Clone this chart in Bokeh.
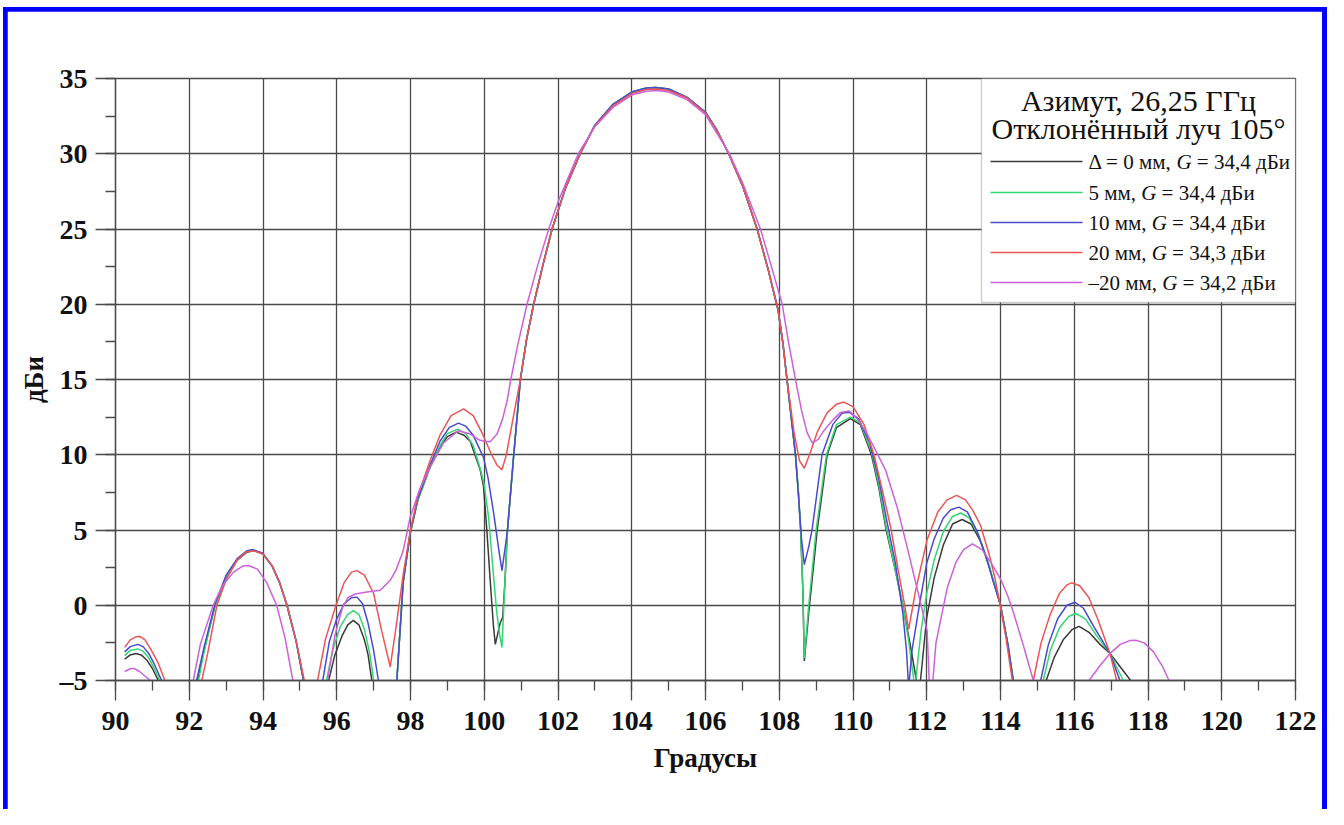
from bokeh.plotting import figure
from bokeh.models import Range1d, SingleIntervalTicker, BoxAnnotation, Label, Arrow
from bokeh.embed import file_html
from bokeh.resources import INLINE

# ---------------- data ----------------
X_MIN, X_MAX = 90, 122
Y_MIN, Y_MAX = -5, 35

MAIN_X = [100.8, 100.98, 101.15, 101.34, 101.6, 101.84, 102.2, 102.6, 103.0, 103.5, 104.0, 104.4,
          104.65, 105.0, 105.5, 106.0, 106.3, 106.63, 107.0, 107.4, 107.7, 107.97, 108.1, 108.2]
MAIN_Y = [10.0, 15.0, 17.7, 20.0, 22.7, 25.0, 27.7, 30.0, 31.9, 33.3, 34.1, 34.37,
          34.4, 34.3, 33.75, 32.76, 31.6, 30.0, 27.9, 25.0, 22.3, 19.6, 17.4, 15.2]

# Δ = 0 mm
BLK_X = ([90.25, 90.4, 90.55, 90.7, 90.85, 91.0, 91.16, 91.3, 91.75, 92.22, 92.4, 92.7, 93.0, 93.3,
          93.55, 93.75, 94.0, 94.25, 94.45, 94.65, 94.9, 95.1, 95.3, 95.45, 95.78, 95.95, 96.15, 96.3,
          96.45, 96.6, 96.75, 96.85, 96.95, 97.1, 97.35, 97.63, 97.8, 97.99, 98.2, 98.53, 98.8, 99.0,
          99.24, 99.45, 99.62, 99.89, 99.98, 100.07, 100.16, 100.25, 100.3, 100.43, 100.5, 100.56, 100.63]
         + MAIN_X +
         [108.32, 108.44, 108.52, 108.58, 108.64, 108.68, 108.8, 109.03, 109.3, 109.55, 109.93, 110.2,
          110.5, 110.7, 110.9, 111.15, 111.35, 111.55, 111.72, 111.78, 111.83, 112.0, 112.2, 112.45,
          112.7, 112.96, 113.2, 113.45, 113.7, 114.0, 114.2, 114.35, 114.8, 115.24, 115.45, 115.7,
          115.95, 116.13, 116.4, 116.7, 116.97, 117.25, 117.53, 117.8])
BLK_Y = ([-3.58, -3.3, -3.2, -3.3, -3.65, -4.2, -5.0, -6.2, -12, -5.0, -3.0, 0.0, 1.9, 3.0,
          3.5, 3.64, 3.4, 2.6, 1.5, 0.0, -2.4, -5.0, -9, -12, -5.0, -3.3, -2.0, -1.3,
          -1.0, -1.3, -2.3, -3.3, -5.0, -8, -14, -5.0, 1.5, 4.77, 7.0, 9.17, 10.5, 11.2,
          11.5, 11.3, 10.9, 9.0, 7.9, 5.0, 1.7, -1.4, -2.6, -1.2, -0.8, 1.5, 5.0]
         + MAIN_Y +
         [12.6, 10.0, 7.5, 5.0, 1.0, -3.7, -0.5, 5.0, 10.0, 11.8, 12.4, 12.0,
          10.0, 7.8, 5.0, 2.3, 0.0, -2.6, -5.0, -9, -5.0, -0.8, 1.8, 4.0,
          5.4, 5.7, 5.4, 4.3, 2.5, 0.0, -2.6, -5.0, -13, -5.0, -3.5, -2.3,
          -1.6, -1.4, -1.8, -2.6, -3.2, -4.1, -5.0, -7])

# 5 mm
GRN_X = ([90.25, 90.4, 90.6, 90.75, 90.9, 91.05, 91.2, 91.4, 91.75, 92.25, 92.4, 92.7, 93.0, 93.3,
          93.55, 93.75, 94.0, 94.25, 94.45, 94.65, 94.9, 95.1, 95.45, 95.72, 95.9, 96.1, 96.3, 96.45,
          96.6, 96.75, 96.9, 97.0, 97.35, 97.63, 97.8, 97.99, 98.2, 98.53, 98.8, 99.0, 99.28, 99.5,
          99.7, 99.9, 100.0, 100.12, 100.25, 100.34, 100.42, 100.48, 100.56, 100.63]
         + MAIN_X +
         [108.32, 108.44, 108.52, 108.58, 108.64, 108.68, 108.8, 109.0, 109.28, 109.55, 109.93, 110.2,
          110.5, 110.7, 110.9, 111.15, 111.35, 111.5, 111.65, 111.68, 111.7, 111.85, 112.0, 112.2,
          112.45, 112.7, 112.92, 113.15, 113.4, 113.7, 114.0, 114.2, 114.34, 114.7, 115.16, 115.35,
          115.6, 115.85, 116.04, 116.3, 116.6, 116.97, 117.15, 117.33, 117.6])
GRN_Y = ([-3.35, -3.0, -2.9, -3.05, -3.5, -4.2, -5.0, -7, -12, -5.0, -3.1, 0.0, 1.9, 3.0,
          3.55, 3.65, 3.4, 2.6, 1.5, 0.0, -2.4, -5.0, -12, -5.0, -2.9, -1.4, -0.6, -0.35,
          -0.6, -1.6, -3.3, -5.0, -14, -5.0, 1.5, 4.77, 7.0, 9.17, 10.6, 11.4, 11.7, 11.4,
          10.6, 9.0, 8.0, 5.8, 2.0, -0.5, -2.0, -2.8, 1.5, 5.0]
         + MAIN_Y +
         [12.6, 10.0, 7.5, 5.0, 1.0, -3.5, 0.0, 5.0, 10.0, 12.0, 12.5, 12.1,
          10.2, 8.0, 5.2, 2.3, 0.0, -2.2, -5.0, -7, -5.0, -1.6, 0.8, 3.0,
          4.9, 5.9, 6.13, 5.8, 4.7, 2.6, 0.0, -2.6, -5.0, -13, -5.0, -3.0,
          -1.5, -0.75, -0.55, -0.9, -2.0, -3.2, -4.1, -5.0, -8])

# 10 mm
BLU_X = ([90.25, 90.4, 90.6, 90.75, 90.9, 91.05, 91.25, 91.5, 91.75, 92.2, 92.4, 92.7, 93.0, 93.3,
          93.55, 93.72, 94.0, 94.25, 94.45, 94.65, 94.9, 95.1, 95.4, 95.62, 95.8, 96.0, 96.2, 96.4,
          96.55, 96.7, 96.85, 97.0, 97.13, 97.38, 97.63, 97.8, 97.99, 98.2, 98.53, 98.8, 99.05, 99.3,
          99.5, 99.7, 99.98, 100.1, 100.25, 100.4, 100.48, 100.56, 100.63]
         + MAIN_X +
         [108.32, 108.44, 108.52, 108.6, 108.68, 108.8, 108.89, 109.16, 109.45, 109.7, 109.89, 110.15,
          110.45, 110.7, 110.9, 111.15, 111.35, 111.45, 111.51, 111.6, 111.8, 112.0, 112.2, 112.45,
          112.65, 112.87, 113.1, 113.35, 113.6, 113.8, 114.0, 114.2, 114.34, 114.7, 115.09, 115.3,
          115.55, 115.8, 116.02, 116.25, 116.55, 116.97, 117.24, 117.5])
BLU_Y = ([-3.1, -2.75, -2.6, -2.75, -3.2, -3.9, -5.0, -8, -12, -5.0, -2.8, 0.1, 2.0, 3.1,
          3.6, 3.7, 3.45, 2.6, 1.5, 0.0, -2.4, -5.0, -12, -5.0, -2.4, -0.9, 0.1, 0.5,
          0.54, 0.1, -1.2, -3.0, -5.0, -14, -5.0, 1.5, 4.77, 7.1, 9.3, 10.9, 11.8, 12.1,
          11.9, 11.3, 9.83, 8.5, 6.2, 3.6, 2.3, 3.7, 5.0]
         + MAIN_Y +
         [12.6, 10.0, 7.3, 4.5, 2.7, 3.9, 5.0, 10.0, 12.0, 12.75, 12.83, 12.4,
          10.8, 8.4, 5.8, 2.8, -0.5, -3.0, -5.5, -3.0, 0.0, 2.8, 4.4, 5.8,
          6.35, 6.52, 6.2, 5.0, 3.3, 1.6, 0.0, -2.6, -5.0, -13, -5.0, -2.6,
          -0.9, 0.0, 0.2, -0.2, -1.5, -3.2, -5.0, -8])

# 20 mm
RED_X = [90.25, 90.4, 90.55, 90.66, 90.8, 90.95, 91.15, 91.34, 91.6, 91.9, 92.34, 92.5, 92.75, 93.0,
         93.3, 93.55, 93.75, 94.0, 94.25, 94.45, 94.65, 94.9, 95.12, 95.3, 95.48, 95.7, 95.98, 96.2,
         96.4, 96.55, 96.75, 97.0, 97.2, 97.45, 97.6, 97.8, 97.99, 98.2, 98.53, 98.8, 99.1, 99.44,
         99.7, 99.95, 100.2, 100.35, 100.48, 100.6, 100.75, 100.98, 101.15, 101.34, 101.6, 101.84,
         102.2, 102.6, 103.0, 103.5, 104.0, 104.4, 104.65, 105.0, 105.5, 106.0, 106.3, 106.63, 107.0,
         107.4, 107.7, 107.97, 108.1, 108.2, 108.4, 108.55, 108.68, 108.85, 109.03, 109.3, 109.55,
         109.75, 110.0, 110.3, 110.57, 110.8, 111.02, 111.25, 111.4, 111.51, 111.7, 112.01, 112.3,
         112.55, 112.81, 113.05, 113.25, 113.46, 113.7, 113.85, 114.0, 114.15, 114.32, 114.6, 114.89,
         115.1, 115.35, 115.6, 115.8, 115.93, 116.15, 116.4, 116.65, 116.97, 117.15, 117.3]
RED_Y = [-2.8, -2.3, -2.1, -2.07, -2.3, -2.9, -3.8, -5.0, -9, -12, -5.0, -3.2, 0.0, 1.7,
         3.0, 3.55, 3.62, 3.4, 2.6, 1.5, 0.0, -2.4, -5.0, -12, -5.0, -2.2, 0.0, 1.5,
         2.2, 2.3, 2.0, 0.78, -1.5, -4.1, -1.6, 2.0, 4.9, 7.3, 9.6, 11.3, 12.6, 13.05,
         12.6, 11.4, 10.0, 9.3, 9.0, 10.0, 12.0, 15.0, 17.7, 20.0, 22.7, 25.0,
         27.7, 30.0, 31.85, 33.2, 34.0, 34.27, 34.3, 34.2, 33.7, 32.7, 31.6, 30.0, 27.9,
         25.0, 22.3, 19.6, 17.4, 15.2, 11.5, 9.6, 9.1, 10.2, 11.5, 12.8, 13.35,
         13.5, 13.2, 12.0, 10.0, 7.6, 5.2, 2.0, 0.0, -1.6, 1.0, 4.35, 6.2,
         7.0, 7.3, 7.0, 6.3, 5.3, 3.3, 1.8, -0.1, -2.2, -5.0, -12, -5.0,
         -2.5, -0.6, 0.8, 1.35, 1.49, 1.3, 0.5, -1.0, -3.2, -5.0, -8]

# -20 mm
MAG_X = [90.25, 90.4, 90.5, 90.65, 90.8, 90.94, 91.2, 91.7, 92.11, 92.3, 92.65, 92.9, 93.2, 93.45,
         93.6, 93.85, 94.1, 94.37, 94.6, 94.81, 95.3, 95.75, 95.95, 96.15, 96.3, 96.5, 96.82, 97.18,
         97.45, 97.6, 97.8, 97.99, 98.25, 98.53, 98.9, 99.3, 99.6, 99.85, 100.0, 100.16, 100.35, 100.5,
         100.62, 100.72, 100.9, 101.16, 101.45, 101.75, 102.0, 102.55, 103.0, 103.5, 104.0, 104.4,
         104.7, 105.0, 105.5, 106.0, 106.65, 107.0, 107.49, 107.8, 108.08, 108.25, 108.44, 108.6,
         108.75, 108.89, 109.05, 109.21, 109.45, 109.66, 109.9, 110.15, 110.35, 110.57, 110.88, 111.2,
         111.47, 111.75, 112.01, 112.1, 112.25, 112.56, 112.8, 113.0, 113.24, 113.5, 113.75, 114.02,
         114.2, 114.36, 114.6, 114.89, 115.65, 116.4, 116.7, 116.97, 117.25, 117.5, 117.67, 117.9,
         118.15, 118.4, 118.57, 118.8]
MAG_Y = [-4.4, -4.22, -4.2, -4.4, -4.7, -5.0, -9, -12, -5.0, -2.6, 0.0, 1.3, 2.2, 2.6,
         2.64, 2.4, 1.5, 0.0, -2.2, -5.0, -13, -5.0, -2.0, -0.2, 0.5, 0.75, 0.88, 1.0,
         1.66, 2.3, 3.6, 5.85, 7.7, 9.17, 10.8, 11.6, 11.4, 11.0, 10.9, 10.87, 11.4, 12.4,
         13.6, 15.0, 17.2, 20.0, 22.6, 25.0, 26.8, 30.0, 31.8, 33.1, 33.9, 34.15,
         34.2, 34.1, 33.6, 32.6, 30.0, 28.1, 25.0, 22.4, 20.0, 17.5, 15.0, 13.0,
         11.5, 10.8, 11.0, 11.6, 12.3, 12.8, 12.9, 12.3, 11.5, 10.5, 9.0, 6.5,
         3.85, 1.0, -1.7, -7, -2.5, 1.2, 2.9, 3.7, 4.08, 3.7, 2.8, 1.65,
         0.6, -0.55, -2.5, -5.0, -15, -5.0, -4.0, -3.2, -2.6, -2.35, -2.33, -2.5,
         -3.1, -4.1, -5.0, -9]

NB = "\u00a0"
SERIES = [
    (BLK_X, BLK_Y, "#3a3a3a", "Δ = 0 мм," + NB, "G", NB + "= 34,4 дБи"),
    (GRN_X, GRN_Y, "#33d673", "5 мм," + NB, "G", NB + "= 34,4 дБи"),
    (BLU_X, BLU_Y, "#4a4acc", "10 мм," + NB, "G", NB + "= 34,4 дБи"),
    (RED_X, RED_Y, "#eb5555", "20 мм," + NB, "G", NB + "= 34,3 дБи"),
    (MAG_X, MAG_Y, "#cc62d8", "–20 мм," + NB, "G", NB + "= 34,2 дБи"),
]
LEGEND_TITLE = ["Азимут, 26,25 ГГц", "Отклонённый луч 105°"]
X_LABEL = "Градусы"
Y_LABEL = "дБи"

# ---------------- figure ----------------
FONT = "Liberation Serif"
GRID = "#4a4a4a"

p = figure(frame_width=1180, frame_height=602,
           x_range=Range1d(X_MIN, X_MAX), y_range=Range1d(Y_MIN, Y_MAX),
           output_backend="svg", toolbar_location=None,
           min_border_left=108, min_border_top=67, min_border_right=27, min_border_bottom=129)
# white margin + blue frame (left, top, right) around the canvas
p.styles = {"border-style": "solid", "border-color": "#ffffff",
            "border-width": "7px 1px 0px 3px",
            "padding": "4px 5px 0px 4px", "background-color": "#0000ff"}
p.background_fill_color = "white"
p.border_fill_color = "white"
p.outline_line_color = GRID
p.outline_line_width = 1.3

p.xaxis.ticker = SingleIntervalTicker(interval=2, num_minor_ticks=2)
p.yaxis.ticker = SingleIntervalTicker(interval=5, num_minor_ticks=2)
p.yaxis.major_label_overrides = {-5: "–5"}

for ax in (p.xaxis[0], p.yaxis[0]):
    ax.axis_line_color = GRID
    ax.axis_line_width = 1.3
    ax.major_tick_line_color = GRID
    ax.minor_tick_line_color = GRID
    ax.major_tick_line_width = 1.3
    ax.minor_tick_line_width = 1.3
    ax.major_tick_out = 20
    ax.major_tick_in = 0
    ax.minor_tick_out = 10
    ax.minor_tick_in = 0
    ax.major_label_text_font = FONT
    ax.major_label_text_font_size = "28px"
    ax.major_label_text_font_style = "bold"
    ax.major_label_text_color = "#111111"
    ax.axis_label_text_font = FONT
    ax.axis_label_text_font_size = "27px"
    ax.axis_label_text_font_style = "bold"
    ax.axis_label_text_color = "#111111"

p.xaxis.axis_label = X_LABEL
p.yaxis.axis_label = Y_LABEL
p.xaxis.major_label_standoff = 11
p.yaxis.major_label_standoff = 8
p.xaxis.axis_label_standoff = 10
p.yaxis.axis_label_standoff = 8

for g in (p.xgrid[0], p.ygrid[0]):
    g.grid_line_color = GRID
    g.grid_line_width = 1.3

for xs, ys, col, *_ in SERIES:
    p.line(xs, ys, line_color=col, line_width=1.5)

# ---------------- legend (screen units, relative to the frame) ----------------
LEG_L, LEG_R, LEG_T, LEG_B = 866, 1180, 602, 378
p.add_layout(BoxAnnotation(left=LEG_L, right=LEG_R, top=LEG_T, bottom=LEG_B,
                           left_units="screen", right_units="screen",
                           top_units="screen", bottom_units="screen",
                           fill_color="white", fill_alpha=1.0,
                           line_color="#555555", line_width=1.3, level="overlay"))
title_y = [580, 552]
for t, ty in zip(LEGEND_TITLE, title_y):
    p.add_layout(Label(x=(LEG_L + LEG_R) / 2, y=ty, x_units="screen", y_units="screen",
                       text=t, text_font=FONT, text_font_size="30px", text_align="center",
                       text_baseline="middle", text_color="#111111", level="overlay"))

TXT_X = 973
ROW_FS = 21
row_y = [519, 488, 458, 428, 398]
pre_em = [4.19, 2.51, 3.01, 3.01, 3.51]   # approximate prefix widths in em
for (xs, ys, col, pre, gg, post), ry, pe in zip(SERIES, row_y, pre_em):
    pw = pe * ROW_FS
    p.add_layout(Arrow(x_start=875, y_start=ry, x_end=967, y_end=ry,
                       start_units="screen", end_units="screen", end=None,
                       line_color=col, line_width=1.5, level="overlay"))
    p.add_layout(Label(x=TXT_X, y=ry, x_units="screen", y_units="screen", text=pre,
                       text_font=FONT, text_font_size=f"{ROW_FS}px", text_align="left",
                       text_baseline="middle", text_color="#111111", level="overlay"))
    p.add_layout(Label(x=TXT_X + pw, y=ry, x_units="screen", y_units="screen", text=gg,
                       text_font=FONT, text_font_size=f"{ROW_FS}px", text_font_style="italic",
                       text_align="left", text_baseline="middle", text_color="#111111",
                       level="overlay"))
    p.add_layout(Label(x=TXT_X + pw + 0.72 * ROW_FS, y=ry, x_units="screen", y_units="screen",
                       text=post, text_font=FONT, text_font_size=f"{ROW_FS}px",
                       text_align="left", text_baseline="middle", text_color="#111111",
                       level="overlay"))

open("out.html", "w").write(file_html(p, INLINE))
